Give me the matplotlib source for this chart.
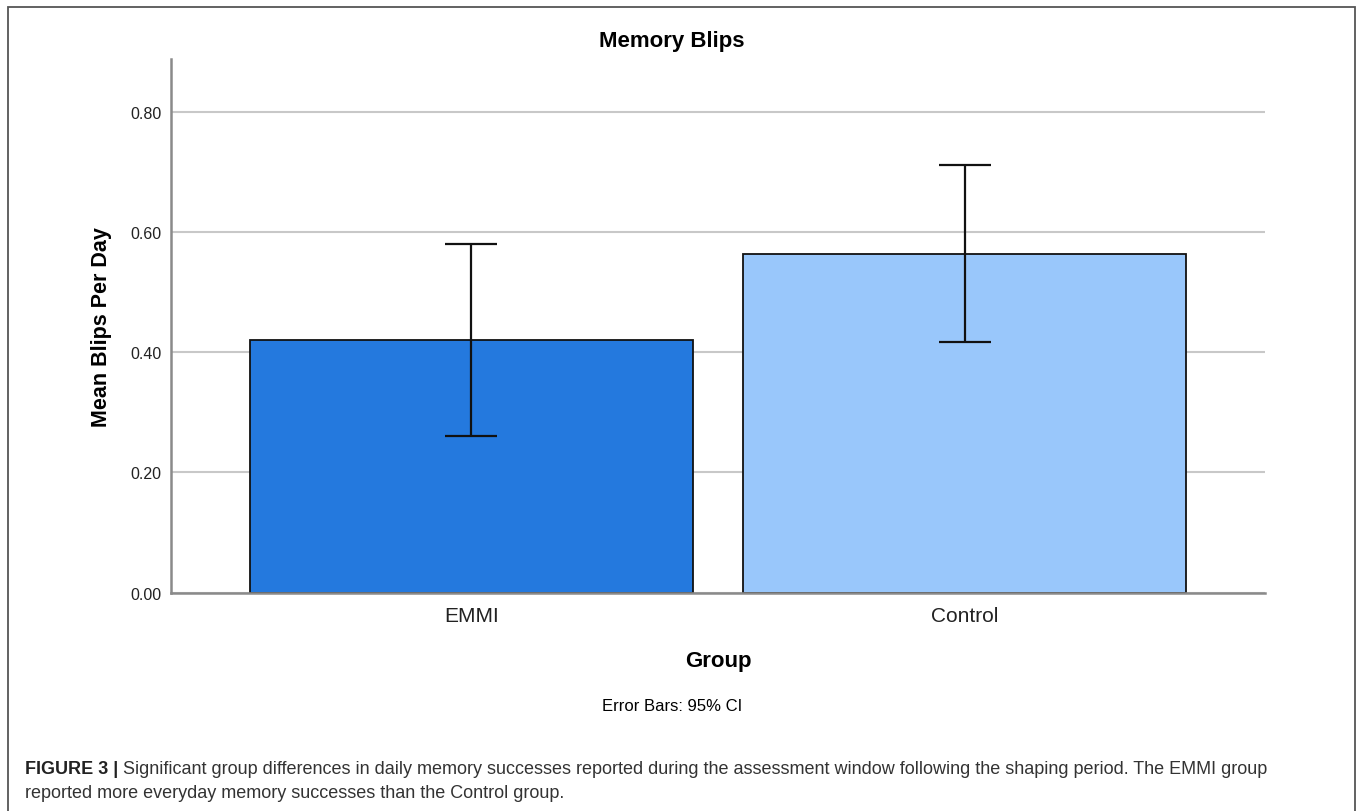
import matplotlib
matplotlib.use("Agg")
import matplotlib.pyplot as plt
from matplotlib.patches import Rectangle

# Données du graphique
groups = ["EMMI", "Control"]
means = [0.421, 0.564]
ci_low = [0.261, 0.417]
ci_high = [0.581, 0.712]
y_ticks = [0.0, 0.2, 0.4, 0.6, 0.8]
bar_colors = ["#2479DE", "#99C7FB"]

caption_bold = "FIGURE 3 |"
caption_line1 = (" Significant group differences in daily memory successes reported during the "
                 "assessment window following the shaping period. The EMMI group")
caption_line2 = "reported more everyday memory successes than the Control group."

plt.rcParams["font.family"] = ["Liberation Sans", "DejaVu Sans"]

fig = plt.figure(figsize=(13.6, 8.12), dpi=100)
ax = fig.add_axes([171 / 1360, 1 - 593.5 / 812, (1265 - 171) / 1360, (593.5 - 60) / 812])

x = list(range(len(groups)))
err_low = [m - l for m, l in zip(means, ci_low)]
err_high = [h - m for m, h in zip(means, ci_high)]

ax.bar(x, means, width=0.9, color=bar_colors, edgecolor="#111111", linewidth=1.3, zorder=2)
ax.errorbar(x, means, yerr=[err_low, err_high], fmt="none", ecolor="#111111",
            elinewidth=1.6, capsize=19, capthick=1.6, zorder=3)

ax.set_xlim(-0.6095, 1.6095)
ax.set_ylim(0, 0.889)
ax.set_yticks(y_ticks)
ax.set_yticklabels([f"{v:.2f}" for v in y_ticks], fontsize=11.5)
ax.set_xticks(x)
ax.set_xticklabels(groups, fontsize=15)
ax.tick_params(axis="both", length=0, colors="#222222")
ax.tick_params(axis="x", pad=10)
ax.tick_params(axis="y", pad=7)

ax.yaxis.grid(True, color="#c8c8c8", linewidth=1.5, zorder=0)
ax.set_axisbelow(True)
for side in ["top", "right"]:
    ax.spines[side].set_visible(False)
for side in ["left", "bottom"]:
    ax.spines[side].set_color("#8a8a8a")
    ax.spines[side].set_linewidth(1.8)

# Titres et étiquettes
fig.text(672 / 1360, 1 - 42 / 812, "Memory Blips", ha="center", va="center",
         fontsize=16, fontweight="bold")
fig.text(718 / 1360, 1 - 662 / 812, "Group", ha="center", va="center",
         fontsize=16, fontweight="bold")
fig.text(102 / 1360, 1 - 327 / 812, "Mean Blips Per Day", ha="center", va="center",
         rotation=90, fontsize=15.5, fontweight="bold")
fig.text(672 / 1360, 1 - 707 / 812, "Error Bars: 95% CI", ha="center", va="center",
         fontsize=12)

# Légende de la figure
t1 = fig.text(25 / 1360, 1 - 774 / 812, caption_bold, ha="left", va="baseline",
              fontsize=13, fontweight="bold", color="#222222")
ax.annotate(caption_line1, xy=(1, 0), xycoords=t1, ha="left", va="bottom",
            fontsize=13, color="#333333", annotation_clip=False)
fig.text(25 / 1360, 1 - 798 / 812, caption_line2, ha="left", va="baseline",
         fontsize=13, color="#333333")

# Cadre autour de la figure
fig.patches.append(Rectangle((8 / 1360, -0.02), 1347 / 1360, 1 - 8 / 812 + 0.02,
                             transform=fig.transFigure, fill=False,
                             edgecolor="#555555", linewidth=1.3))

fig.savefig("out.png", dpi=100)
